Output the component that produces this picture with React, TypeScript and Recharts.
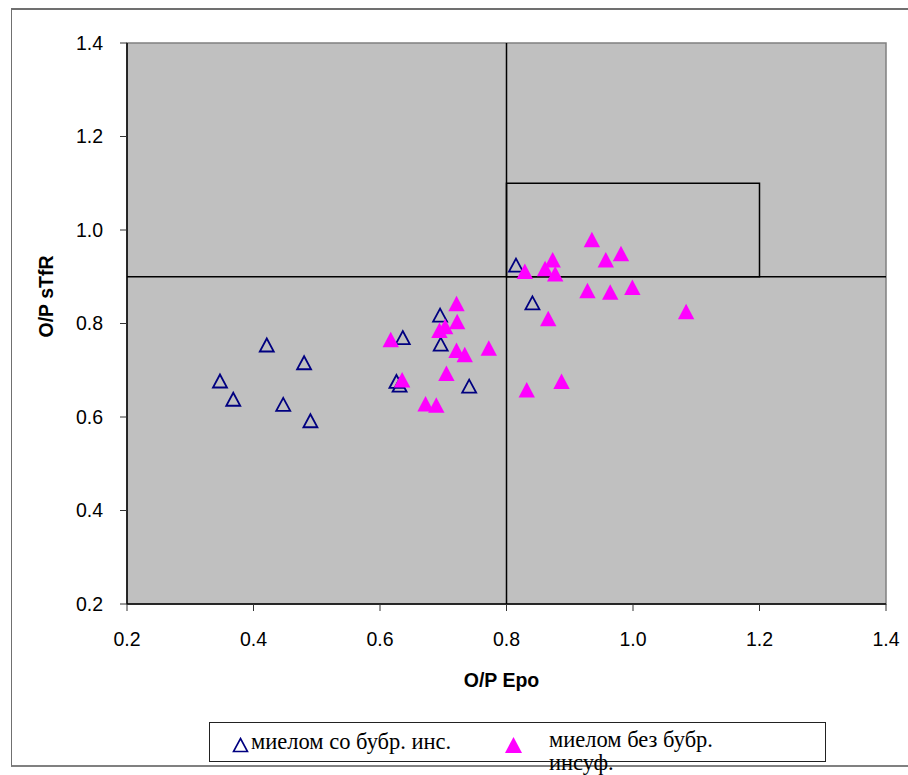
import React from 'react';
import {
  ScatterChart,
  Scatter,
  XAxis,
  YAxis,
  ReferenceArea,
  ReferenceLine,
  Legend,
} from 'recharts';

// ---- data ----
const seriesNames = ['миелом со бубр. инс.', 'миелом без бубр. инсуф.'];
const xTicks = [0.2, 0.4, 0.6, 0.8, 1.0, 1.2, 1.4];
const yTicks = [0.2, 0.4, 0.6, 0.8, 1.0, 1.2, 1.4];
const xAxisTitle = 'O/P Epo';
const yAxisTitle = 'O/P sTfR';

// with renal insufficiency (open navy triangles)
const renalX = [0.347, 0.368, 0.421, 0.447, 0.48, 0.49, 0.626, 0.631, 0.636, 0.695, 0.696, 0.741, 0.815, 0.841];
const renalY = [0.677, 0.638, 0.754, 0.627, 0.716, 0.592, 0.676, 0.668, 0.77, 0.818, 0.756, 0.666, 0.925, 0.844];

// without renal insufficiency (filled magenta triangles)
const noRenalX = [
  0.617, 0.635, 0.672, 0.689, 0.694, 0.703, 0.705, 0.721, 0.722, 0.721, 0.734, 0.772, 0.829,
  0.832, 0.861, 0.866, 0.873, 0.877, 0.887, 0.928, 0.935, 0.957, 0.964, 0.981, 0.999, 1.084,
];
const noRenalY = [
  0.765, 0.679, 0.628, 0.625, 0.785, 0.793, 0.693, 0.842, 0.804, 0.742, 0.733, 0.747, 0.911,
  0.658, 0.917, 0.81, 0.936, 0.906, 0.676, 0.87, 0.979, 0.936, 0.867, 0.949, 0.877, 0.825,
];

// threshold lines / box
const xCut = 0.8;
const yCut = 0.9;
const boxX = [0.8, 1.2];
const boxY = [0.9, 1.1];

const renalData = renalX.map((x, i) => ({ x, y: renalY[i] }));
const noRenalData = noRenalX.map((x, i) => ({ x, y: noRenalY[i] }));

const NAVY = '#000080';
const MAGENTA = '#FF00FF';
const SANS = '"Liberation Sans", Arial, sans-serif';
const SERIF = '"Liberation Serif", "Times New Roman", serif';

const OpenTri = (p: any) => {
  const { cx, cy } = p;
  if (cx == null || cy == null) return null;
  return (
    <polygon
      points={`${cx},${cy - 6.5} ${cx + 7},${cy + 6.5} ${cx - 7},${cy + 6.5}`}
      fill="none"
      stroke={NAVY}
      strokeWidth={1.8}
    />
  );
};

const FilledTri = (p: any) => {
  const { cx, cy } = p;
  if (cx == null || cy == null) return null;
  return (
    <polygon
      points={`${cx},${cy - 8} ${cx + 8.2},${cy + 7.5} ${cx - 8.2},${cy + 7.5}`}
      fill={MAGENTA}
      stroke="none"
    />
  );
};

const LegendBox = () => (
  <div
    style={{
      position: 'relative',
      width: 617,
      height: 40,
      boxSizing: 'border-box',
      border: '1.5px solid #222',
      background: '#fff',
      fontFamily: SERIF,
      fontSize: 22.5,
      color: '#000',
    }}
  >
    <svg style={{ position: 'absolute', left: 22, top: 14 }} width={17} height={17}>
      <polygon points="8.5,1.5 15.5,14.5 1.5,14.5" fill="none" stroke={NAVY} strokeWidth={1.6} />
    </svg>
    <div style={{ position: 'absolute', left: 41, top: 7, lineHeight: '24px', whiteSpace: 'nowrap' }}>
      {seriesNames[0]}
    </div>
    <svg style={{ position: 'absolute', left: 294, top: 13 }} width={19} height={18}>
      <polygon points="9.5,1 18,17 1,17" fill={MAGENTA} />
    </svg>
    <div style={{ position: 'absolute', left: 339, top: 5, lineHeight: '23px', width: 200 }}>
      {seriesNames[1]}
    </div>
  </div>
);

const XTitle = (props: any) => {
  const vb = props.viewBox || { x: 127, y: 604, width: 759, height: 60 };
  return (
    <text
      x={vb.x + vb.width / 2 - 5}
      y={vb.y + 83}
      textAnchor="middle"
      fontFamily={SANS}
      fontWeight="bold"
      fontSize={19.5}
      fill="#000"
    >
      {xAxisTitle}
    </text>
  );
};

const YTitle = (props: any) => {
  const vb = props.viewBox || { x: 47, y: 43, width: 80, height: 561 };
  const x = vb.x + 6;
  const y = vb.y + vb.height / 2 - 27;
  return (
    <text
      x={x}
      y={y}
      transform={`rotate(-90, ${x}, ${y})`}
      textAnchor="middle"
      fontFamily={SANS}
      fontWeight="bold"
      fontSize={19.5}
      fill="#000"
    >
      {yAxisTitle}
    </text>
  );
};

const fmt = (v: number) => v.toFixed(1);

export default function App() {
  return (
    <div style={{ position: 'absolute', left: 0, top: 0, width: 908, height: 775, background: '#fff' }}>
      <div
        style={{
          position: 'absolute',
          left: 11,
          top: 8,
          width: 897,
          height: 759,
          boxSizing: 'border-box',
          borderLeft: '1px solid #707070',
          borderTop: '2px solid #707070',
          borderBottom: '2px solid #808080',
        }}
      />
      <div style={{ position: 'absolute', left: 0, top: 0 }}>
        <ScatterChart width={908} height={775} margin={{ top: 43, right: 22, bottom: 111, left: 47 }}>
          <ReferenceArea
            x1={0.2}
            x2={1.4}
            y1={0.2}
            y2={1.4}
            fill="#C0C0C0"
            fillOpacity={1}
            stroke="#808080"
            strokeWidth={1.5}
            ifOverflow="visible"
          />
          <XAxis
            type="number"
            dataKey="x"
            domain={[0.2, 1.4]}
            ticks={xTicks}
            interval={0}
            allowDataOverflow
            tickFormatter={fmt}
            height={60}
            tickSize={7}
            tickMargin={21}
            axisLine={{ stroke: '#000', strokeWidth: 1.5 }}
            tickLine={{ stroke: '#333' }}
            tick={{ fill: '#000', fontSize: 19.5, fontFamily: SANS }}
            label={{ content: XTitle }}
          />
          <YAxis
            type="number"
            dataKey="y"
            domain={[0.2, 1.4]}
            ticks={yTicks}
            interval={0}
            allowDataOverflow
            tickFormatter={fmt}
            width={80}
            tickSize={7}
            tickMargin={17}
            axisLine={{ stroke: '#000', strokeWidth: 1.5 }}
            tickLine={{ stroke: '#333' }}
            tick={{ fill: '#000', fontSize: 19.5, fontFamily: SANS }}
            label={{ content: YTitle }}
          />
          <ReferenceLine x={xCut} stroke="#000" strokeWidth={1.5} />
          <ReferenceLine y={yCut} stroke="#000" strokeWidth={1.5} />
          <ReferenceArea
            x1={boxX[0]}
            x2={boxX[1]}
            y1={boxY[0]}
            y2={boxY[1]}
            fill="none"
            stroke="#000"
            strokeWidth={1.5}
          />
          <Scatter
            name={seriesNames[0]}
            data={renalData}
            shape={OpenTri}
            isAnimationActive={false}
          />
          <Scatter
            name={seriesNames[1]}
            data={noRenalData}
            shape={FilledTri}
            isAnimationActive={false}
          />
          <Legend
            layout="horizontal"
            verticalAlign="middle"
            align="center"
            wrapperStyle={{ left: 209, top: 722, width: 617, height: 40 }}
            content={() => <LegendBox />}
          />
        </ScatterChart>
      </div>
    </div>
  );
}
